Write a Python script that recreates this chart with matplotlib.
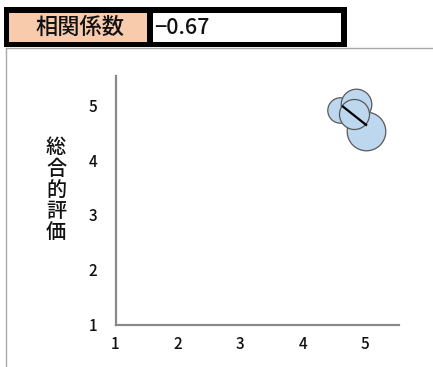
import matplotlib
matplotlib.use("Agg")
import matplotlib.pyplot as plt
from matplotlib.patches import Rectangle
from matplotlib.lines import Line2D

plt.rcParams['font.family'] = ['Noto Sans CJK JP', 'DejaVu Sans']
plt.rcParams['font.weight'] = 'medium'

# Data
corr_label = "相関係数"
corr_value = "−0.67"
x_vals = [5.01, 4.60, 4.86, 4.82]
y_vals = [4.53, 4.91, 5.02, 4.84]
bubble_sizes = [772, 335, 485, 467]
line_x = [4.63, 5.03]
line_y = [4.99, 4.63]
x_ticks = [1, 2, 3, 4, 5]
y_ticks = [1, 2, 3, 4, 5]
y_label = "総合的評価"

W, H = 433, 367
fig = plt.figure(figsize=(W / 100, H / 100), dpi=100)

def fx(px):
    return px / W

def fy(py):
    return 1 - py / H

# outer light frame lines
fig.add_artist(Line2D([fx(6), fx(433)], [fy(48), fy(48)], color='#aaaaaa', lw=1.0))
fig.add_artist(Line2D([fx(6), fx(6)], [fy(48), fy(367)], color='#aaaaaa', lw=1.0))

# header box
fig.add_artist(Rectangle((fx(4), fy(47)), fx(346.7 - 4), (47 - 6.7) / H,
                         facecolor='black', edgecolor='none'))
fig.add_artist(Rectangle((fx(9), fy(42)), fx(147.3 - 9), (42 - 13.3) / H,
                         facecolor='#f8cbad', edgecolor='none'))
fig.add_artist(Rectangle((fx(153.3), fy(42)), fx(340.7 - 153.3), (42 - 13.3) / H,
                         facecolor='white', edgecolor='none'))
fig.text(fx(80), fy(27.5), corr_label, ha='center', va='center', fontsize=16, color='#111111')
fig.text(fx(154), fy(27.5), corr_value, ha='left', va='center', fontsize=15.5, color='#111111')

# axes
x0, x1 = 1, 5.55
y0, y1 = 1, 5.53
left_px = 115.5
bottom_px = 324.5
ax = fig.add_axes([fx(left_px), fy(bottom_px), (x1 - x0) * 62.4 / W, (y1 - y0) * 54.8 / H])
ax.set_xlim(x0, x1)
ax.set_ylim(y0, y1)
for s in ['top', 'right']:
    ax.spines[s].set_visible(False)
for s in ['left', 'bottom']:
    ax.spines[s].set_color('#898989')
    ax.spines[s].set_linewidth(1.6)
ax.set_xticks(x_ticks)
ax.set_yticks(y_ticks)
ax.tick_params(axis='x', length=0, pad=8, labelsize=11, labelcolor='#111111')
ax.tick_params(axis='y', length=0, pad=13, labelsize=11, labelcolor='#111111')
ax.patch.set_alpha(0)

for i, (xv, yv, sv) in enumerate(zip(x_vals, y_vals, bubble_sizes)):
    ax.scatter([xv], [yv], s=sv, facecolor='#bdd7ee', edgecolor='#595959',
               linewidth=0.9, zorder=3 + i, clip_on=False)
ax.plot(line_x, line_y, color='black', lw=1.6, zorder=10, solid_capstyle='butt')

# vertical stacked y label (one character per line)
for i, ch in enumerate(y_label):
    fig.text(fx(56), fy(148 + 21.2 * i), ch, ha='center', va='center',
             fontsize=14.5, color='#111111')

fig.savefig("out.png", dpi=100)
